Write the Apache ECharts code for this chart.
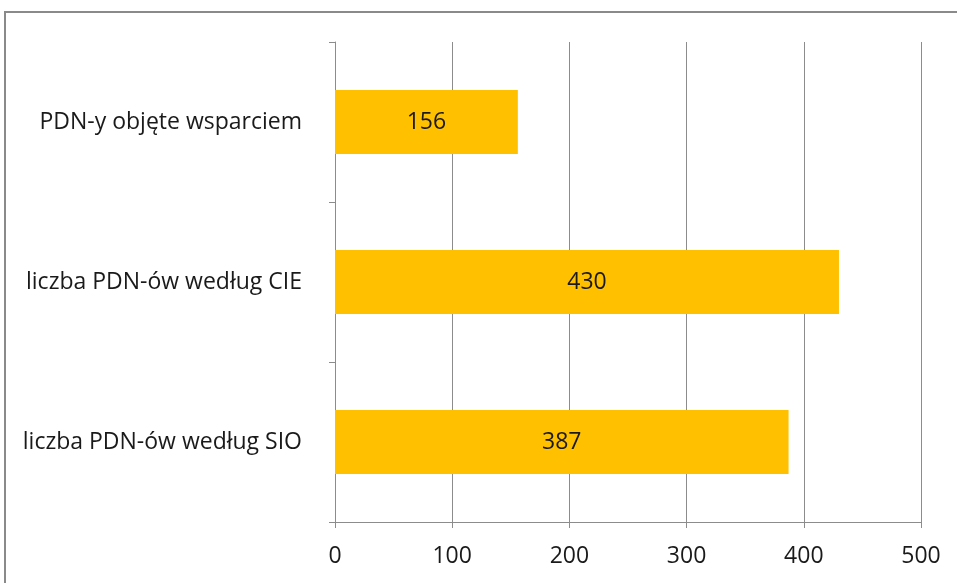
<!DOCTYPE html>
<html><head><meta charset="utf-8">
<script src="https://cdn.jsdelivr.net/npm/echarts@6/dist/echarts.min.js"></script>
<style>html,body{margin:0;padding:0;background:#fff}#c{width:957px;height:583px}</style>
</head><body><div id="c"></div>
<script>
const categories = ["PDN-y objęte wsparciem", "liczba PDN-ów według CIE", "liczba PDN-ów według SIO"];
const values = [156, 430, 387];
const xTicks = [0, 100, 200, 300, 400, 500];

const chart = echarts.init(document.getElementById('c'));
const font = "Open Sans";
chart.setOption({
  animation: false,
  graphic: [{type:'rect', shape:{x:5, y:12, width:1200, height:1200}, style:{fill:'none', stroke:'#8a8a8a', lineWidth:2}, silent:true, z:-1}],
  grid: {left: 335, right: 36, top: 42, bottom: 61, containLabel: false},
  xAxis: {
    type: 'value', min: xTicks[0], max: xTicks[xTicks.length-1], interval: 100,
    axisLine: {show: true, lineStyle: {color: '#8c8c8c', width: 1}},
    axisTick: {show: true, length: 6, lineStyle: {color: '#8c8c8c'}},
    splitLine: {show: true, lineStyle: {color: '#8c8c8c', width: 1}},
    axisLabel: {color: '#1a1a1a', fontSize: 23, fontFamily: font, margin: 23}
  },
  yAxis: {
    type: 'category', data: categories, inverse: true,
    axisLine: {show: true, lineStyle: {color: '#8c8c8c', width: 1}},
    axisTick: {show: true, length: 6, lineStyle: {color: '#8c8c8c'}},
    splitLine: {show: false},
    axisLabel: {color: '#1a1a1a', fontSize: 23, fontFamily: font, margin: 33}
  },
  series: [{
    type: 'bar', data: values, barWidth: '40%',
    itemStyle: {color: '#FFC000'},
    label: {show: true, position: 'inside', color: '#1a1a1a', fontSize: 23, fontFamily: font}
  }]
});
</script></body></html>
